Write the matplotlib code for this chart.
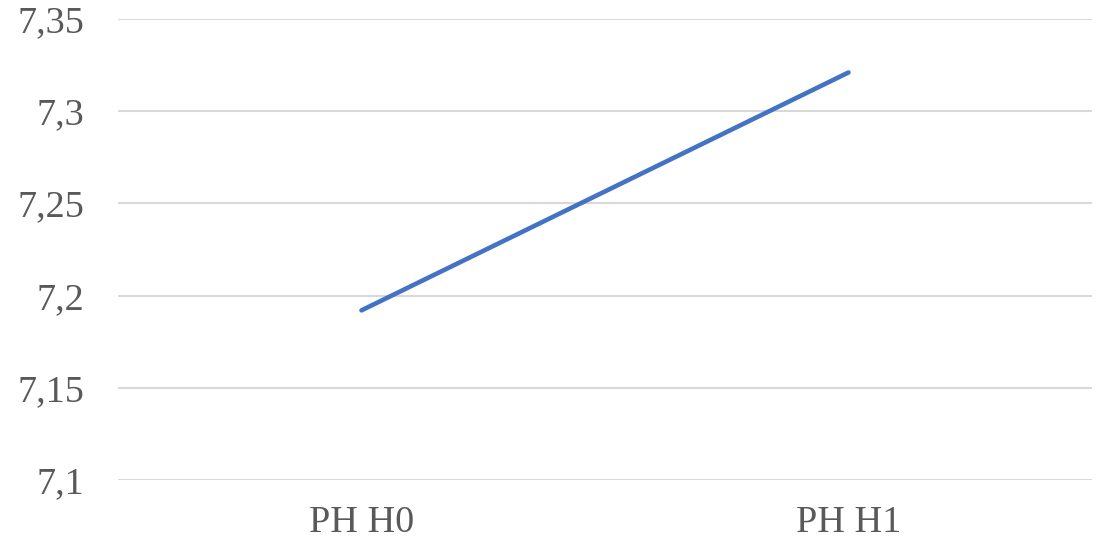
import matplotlib
matplotlib.use("Agg")
import matplotlib.pyplot as plt
from matplotlib.ticker import FuncFormatter

categories = ["PH H0", "PH H1"]
values = [7.192, 7.321]
yticks = [7.1, 7.15, 7.2, 7.25, 7.3, 7.35]

W, H = 1102, 548
fig = plt.figure(figsize=(W / 100, H / 100), dpi=100)
ax = fig.add_axes([118 / W, (H - 480) / H, (1092 - 118) / W, (480 - 19) / H])

x = list(range(len(categories)))
ax.plot(x, values, color="#4472C4", lw=3.3, solid_capstyle="round")
ax.set_xlim(-0.5, len(categories) - 0.5)
ax.set_ylim(7.1, 7.35)
ax.set_yticks(yticks)
ax.yaxis.set_major_formatter(FuncFormatter(lambda v, p: f"{v:g}".replace(".", ",")))
ax.set_xticks(x)
ax.set_xticklabels(categories)
ax.grid(axis="y", color="#D9D9D9", lw=1.5)
ax.set_axisbelow(True)
for s in ax.spines.values():
    s.set_visible(False)
ax.tick_params(length=0, labelsize=27.5, labelcolor="#595959")
ax.tick_params(axis="y", pad=24)
ax.tick_params(axis="x", pad=18)
for lab in ax.get_xticklabels() + ax.get_yticklabels():
    lab.set_family("Liberation Serif")

fig.savefig("out.png", dpi=100)
